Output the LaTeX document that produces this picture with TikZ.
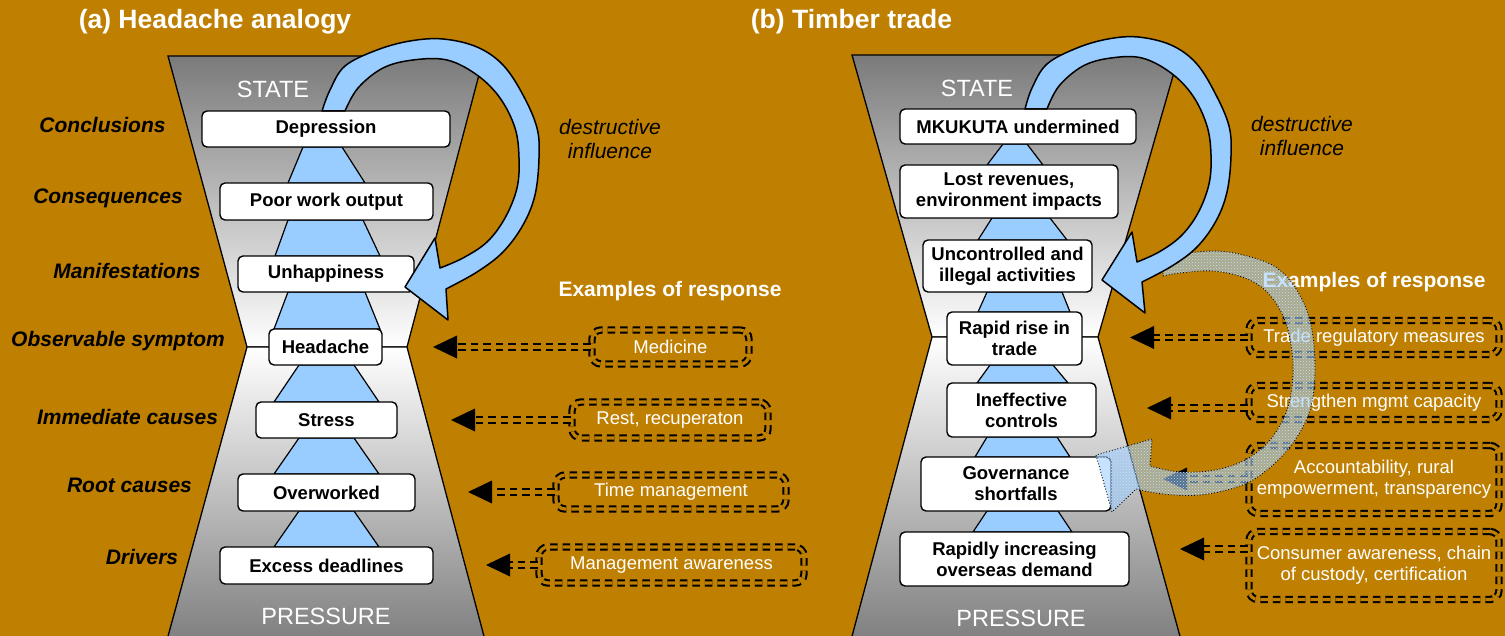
\documentclass[tikz,border=0pt]{standalone}
\usepackage{fontspec}
\setmainfont{Liberation Sans}
\usetikzlibrary{calc,patterns}
\definecolor{bgc}{RGB}{191,127,0}
\definecolor{lb}{RGB}{153,204,255}
\begin{document}
\begin{tikzpicture}[x=1pt,y=-1pt,
  hg/.style={draw=black,line width=1.3pt},
  tri/.style={fill=lb,draw=black,line width=1.2pt},
  sbox/.style={draw=black,line width=1.4pt,fill=white,rounded corners=5pt,inner sep=0pt,align=center,font=\fontsize{18.5}{21}\selectfont\bfseries},
  rbox/.style={draw=black,line width=2.1pt,double=bgc,double distance=3.2pt,dash pattern=on 7.5pt off 5pt,rounded corners=9pt,inner sep=0pt,align=center,text=white,font=\fontsize{18.5}{21}\selectfont},
  rshaft/.style={draw=black,line width=2.1pt,double=bgc,double distance=3.2pt,dash pattern=on 7.5pt off 5pt},
  lab/.style={font=\fontsize{21}{24}\selectfont\bfseries\itshape,inner sep=0pt},
  ttl/.style={font=\fontsize{26.5}{30}\selectfont\bfseries,text=white,inner sep=0pt},
  sp/.style={font=\fontsize{23.5}{26}\selectfont,text=white,inner sep=0pt},
  dest/.style={font=\fontsize{21}{24}\selectfont\itshape,align=center,inner sep=0pt},
  exr/.style={font=\fontsize{21}{24}\selectfont\bfseries,text=white,inner sep=0pt},
  barrow/.style={fill=lb,draw=black,line width=1.5pt,line join=round},
  texfill/.style={fill=lb,fill opacity=0.55,draw=none},
  texdots/.style={pattern=crosshatch dots,pattern color=lb!60!white},
  texline/.style={draw=black,line width=0.9pt,dotted,line join=round},
]
\useasboundingbox (0,0) rectangle (1505,636);
\fill[bgc] (0,0) rectangle (1505,636);

% ---------- hourglasses ----------
\draw[hg,top color=black!52,bottom color=white] (168,56) -- (484,56) -- (407,347) -- (247,347) -- cycle;
\draw[hg,top color=white,bottom color=black!50] (247,347) -- (407,347) -- (485,640) -- (167,640) -- cycle;
\draw[hg,top color=black!52,bottom color=white] (852,55) -- (1179,55) -- (1098,337) -- (932,337) -- cycle;
\draw[hg,top color=white,bottom color=black!50] (932,337) -- (1098,337) -- (1181,640) -- (851,640) -- cycle;

% ---------- blue trapezoids (a) ----------
\draw[tri] (288,183) -- (303,147) -- (342,147) -- (365,183) -- cycle;
\draw[tri] (275,256) -- (288,220) -- (363,220) -- (380,256) -- cycle;
\draw[tri] (274,329) -- (288,292) -- (365,292) -- (380,329) -- cycle;
\draw[tri] (274,402) -- (299,365) -- (354,365) -- (379,402) -- cycle;
\draw[tri] (274,474) -- (299,438) -- (354,438) -- (379,474) -- cycle;
\draw[tri] (274,547) -- (299,511) -- (354,511) -- (379,547) -- cycle;
% ---------- blue trapezoids (b) ----------
\draw[tri] (987,165) -- (1003,144) -- (1027,144) -- (1043,165) -- cycle;
\draw[tri] (978,240) -- (992,218) -- (1050,218) -- (1067,240) -- cycle;
\draw[tri] (978,312) -- (987,292) -- (1062,292) -- (1070,312) -- cycle;
\draw[tri] (977,383) -- (990,365) -- (1053,365) -- (1068,383) -- cycle;
\draw[tri] (975,457) -- (987,437) -- (1057,437) -- (1070,457) -- cycle;
\draw[tri] (973,532) -- (987,511) -- (1058,511) -- (1072,532) -- cycle;

% ---------- boxes (a) ----------
\node[sbox,minimum width=248pt,minimum height=36pt] (a1) at (326,129) {Depression};
\node[sbox,minimum width=213pt,minimum height=37pt] (a2) at (326.5,201.5) {Poor work output};
\node[sbox,minimum width=176pt,minimum height=36pt] (a3) at (326,274) {Unhappiness};
\node[sbox,minimum width=113pt,minimum height=36pt] (a4) at (325.5,347) {Headache};
\node[sbox,minimum width=141pt,minimum height=36pt] (a5) at (326.5,420) {Stress};
\node[sbox,minimum width=177pt,minimum height=37pt] (a6) at (326.5,492.5) {Overworked};
\node[sbox,minimum width=213pt,minimum height=37pt] (a7) at (326.5,565.5) {Excess deadlines};
% ---------- boxes (b) ----------
\node[sbox,minimum width=236pt,minimum height=35pt] (b1) at (1018,126.5) {MKUKUTA undermined};
\node[sbox,minimum width=218pt,minimum height=53pt] (b2) at (1009,191.5) {Lost revenues,\\environment impacts};
\node[sbox,minimum width=169pt,minimum height=52pt] (b3) at (1007.5,266) {Uncontrolled and\\illegal activities};
\node[sbox,minimum width=135pt,minimum height=53pt] (b4) at (1014.5,338.5) {Rapid rise in\\trade};
\node[sbox,minimum width=149pt,minimum height=54pt] (b5) at (1021.5,410) {Ineffective\\controls};
\node[sbox,minimum width=190pt,minimum height=54pt] (b6) at (1016,484) {Governance\\shortfalls};
\node[sbox,minimum width=229pt,minimum height=54pt] (b7) at (1014.5,559) {Rapidly increasing\\overseas demand};

% ---------- texts ----------
\node[ttl] (ta) at (215,22) {(a) Headache analogy};
\node[ttl] (tb) at (851.5,22) {(b) Timber trade};
\node[sp] (sa) at (273,89) {STATE};
\node[sp] (pa) at (326,616) {PRESSURE};
\node[sp] (sb) at (977,88) {STATE};
\node[sp] (pb) at (1021,618) {PRESSURE};
\node[lab] (l1) at (102.5,125) {Conclusions};
\node[lab] (l2) at (108,198) {Consequences};
\node[lab] (l3) at (127,271) {Manifestations};
\node[lab] (l4) at (118,341) {Observable symptom};
\node[lab] (l5) at (127.5,417) {Immediate causes};
\node[lab] (l6) at (129.5,485) {Root causes};
\node[lab] (l7) at (142,557) {Drivers};
\node[dest] (da) at (610,139) {destructive\\influence};
\node[dest] (db) at (1302,136) {destructive\\influence};
\node[exr] (ea) at (670,291) {Examples of response};
\node[exr] (eb) at (1374,282) {Examples of response};

% ---------- response boxes ----------
\node[rbox,minimum width=157pt,minimum height=34pt] (ra1) at (670.5,347) {Medicine};
\node[rbox,minimum width=196pt,minimum height=36pt] (ra2) at (670,420) {Rest, recuperaton};
\node[rbox,minimum width=230pt,minimum height=34pt] (ra3) at (671,492) {Time management};
\node[rbox,minimum width=265pt,minimum height=36pt] (ra4) at (671.5,565) {Management awareness};
\node[rbox,minimum width=250pt,minimum height=34pt] (rb1) at (1374,337.5) {Trade regulatory measures};
\node[rbox,minimum width=250pt,minimum height=34pt] (rb2) at (1374,402.5) {Strengthen mgmt capacity};
\node[rbox,minimum width=250pt,minimum height=68pt] (rb3) at (1374,479.5) {Accountability, rural\\empowerment, transparency};
\node[rbox,minimum width=250pt,minimum height=68pt] (rb4) at (1374,565.5) {Consumer awareness, chain\\of custody, certification};

% ---------- response arrows ----------
\coordinate (xa1) at (433,347);
\coordinate (xa2) at (451,420);
\coordinate (xa3) at (468,492);
\coordinate (xa4) at (486,565);
\coordinate (xb1) at (1130,337.5);
\coordinate (xb2) at (1147,408);
\coordinate (xb3) at (1163,479);
\coordinate (xb4) at (1180,549);
\foreach \r/\t in {ra1/xa1,ra2/xa2,ra3/xa3,ra4/xa4,rb1/xb1,rb2/xb2,rb3/xb3,rb4/xb4}{
  \draw[rshaft] (\r.west |- \t) -- ($(\t)+(22,0)$);
  \fill[black] (\t) -- ++(24,-11.5) -- ++(0,23) -- cycle;
}

% ---------- textured arrow (b) ----------
\def\texpath{plot[smooth,tension=0.6] coordinates {(1163,256) (1213,251) (1247,256) (1277,268) (1298,292) (1311,325) (1315,370) (1310,410) (1293,443) (1267,470) (1240,486) (1200,495) (1163,494) (1136,489)}
  -- (1112,512) -- (1096,455) -- (1152,439) -- (1150,466)
  -- plot[smooth,tension=0.6] coordinates {(1150,466) (1180,472) (1215,470) (1245,460) (1270,440) (1287,410) (1293,375) (1291,345) (1284,318) (1268,293) (1245,278) (1213,271) (1180,273) (1163,276)} -- cycle}
\path[texfill] \texpath;
\path[texdots] \texpath;
\path[texline] \texpath;

% ---------- blue circular arrows ----------
\draw[barrow] plot[smooth,tension=0.6] coordinates {(322,111) (330,90) (345,66) (377,50) (410,41) (443,39) (477,47) (503,65) (523,95) (537,128) (539,158) (535,195) (523,225) (503,252) (477,272) (446,289)}
  -- (448,320) -- (405,287) -- (435,238) -- (440,268)
  -- plot[smooth,tension=0.6] coordinates {(440,268) (463,258) (487,242) (505,218) (517,188) (519,158) (515,128) (500,98) (477,75) (447,60) (413,60) (383,68) (358,88) (345,111)} -- cycle;
\draw[barrow] plot[smooth,tension=0.6] coordinates {(1025,109) (1032,88) (1047,64) (1077,48) (1108,39) (1138,37) (1171,45) (1196,63) (1215,93) (1229,126) (1231,156) (1227,192) (1216,221) (1197,247) (1172,266) (1142,282)}
  -- (1145,313) -- (1102,280) -- (1132,232) -- (1137,262)
  -- plot[smooth,tension=0.6] coordinates {(1137,262) (1159,252) (1181,236) (1198,213) (1209,184) (1211,155) (1207,126) (1193,96) (1171,73) (1142,58) (1111,58) (1083,66) (1059,86) (1047,109)} -- cycle;
\end{tikzpicture}
\end{document}
